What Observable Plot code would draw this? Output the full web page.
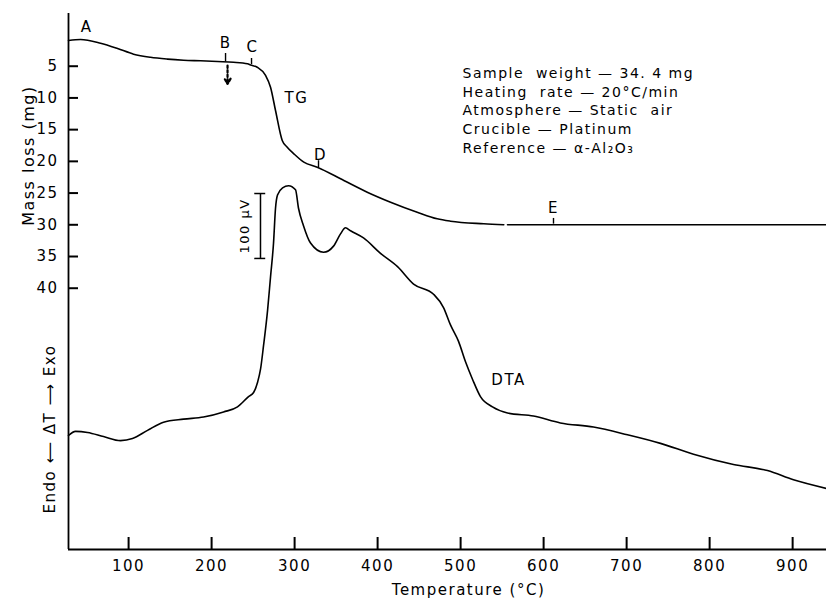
<!DOCTYPE html>
<html><head><meta charset="utf-8">
<script src="https://cdn.jsdelivr.net/npm/d3@7"></script>
<script src="https://cdn.jsdelivr.net/npm/@observablehq/plot@0.6"></script>
<style>
html,body{margin:0;padding:0;background:#fff}
#chart svg text{letter-spacing:1.5px}
#chart g[aria-label="letters"] text{letter-spacing:4px}
#chart g[aria-label^="title"] text{letter-spacing:0}
#chart g[aria-label="x-axis tick label"] text,#chart g[aria-label="y-axis tick label"] text{letter-spacing:1.5px}
</style>
</head><body><div id="chart"></div>
<script>
// TG curve: temperature (°C) and mass loss (mg); null = break in the trace
const tgTemp = [27.6, 42.1, 66.2, 86.7, 106, 126.4, 146.9, 166.2, 186.7, 207.1, 226.4, 243.3, 246.9, 255, 265, 271, 277, 285.1, 291.1, 299.1, 311.1, 327.3, 359.3, 387.5, 415.6, 447.7, 471.8, 487.8, 527.9, 552, 554, 556.5, 940.8];
const tgMass = [0.95, 0.79, 1.37, 2.2, 3.1, 3.6, 3.88, 4.05, 4.15, 4.26, 4.37, 4.62, 4.81, 5.16, 6.46, 8.31, 11.98, 16.71, 17.77, 18.81, 20.13, 20.92, 23.02, 24.86, 26.44, 28.02, 29.06, 29.43, 29.84, 30.0, null, 30.0, 30.0];

// DTA curve: temperature (°C) and ΔT signal (µV, relative to the starting baseline)
const dtaTemp = [27.6, 36.1, 50.5, 69.8, 90.3, 104.7, 122.8, 142.1, 166.2, 190.3, 214.4, 231.2, 244.5, 250.6, 255.4, 259, 262.6, 267.4, 271, 274.6, 277, 279.4, 285.5, 292.7, 301.1, 304.7, 310.7, 319.2, 334.8, 346.9, 355.3, 361.3, 367.4, 383, 403.5, 424, 443.3, 467.4, 479.4, 487.8, 497.5, 505.9, 514.3, 523.9, 538.4, 556.5, 587.8, 620.1, 660.1, 701.1, 740.8, 780.6, 828.7, 869.7, 901.0, 940.8];
const dtaMicroV = [0, 6.3, 4.7, -1.6, -7.9, -4.7, 7.9, 20.5, 25.2, 28.4, 36.3, 44.1, 59.9, 66.2, 82.0, 102.5, 138.7, 192.3, 244.4, 296.4, 350, 370.5, 381.5, 384.7, 378.4, 350, 323.2, 296.4, 282.2, 291.7, 310.6, 320, 315.3, 304.3, 280.6, 260.1, 233.3, 217.6, 197.1, 170.3, 145, 113.5, 86.7, 59.9, 44.1, 34.7, 30, 19.4, 13.1, 1.1, -12.1, -28.8, -44.6, -54.0, -68.2, -81.5];

const xTicks = [100, 200, 300, 400, 500, 600, 700, 800, 900];
const yTicks = [5, 10, 15, 20, 25, 30, 35, 40];

const infoLines = [
  "Sample  weight — 34. 4 mg",
  "Heating  rate — 20°C/min",
  "Atmosphere — Static  air",
  "Crucible — Platinum",
  "Reference — α-Al₂O₃"
];

// point labels on the TG curve
const pointNames = ["A", "B", "C", "D", "E"];
const pointLabelTemp = [49.3, 216.8, 249.3, 331.2, 611.9];
const pointLabelMass = [-1.1, 1.42, 2.05, 19.08, 27.43];
const pointTickTemp = [null, 216.8, 248.1, 328.8, 611.9];
const pointTickFrom = [null, 3.0, 3.78, 19.9, 29.0];
const pointTickTo = [null, 4.3, 4.75, 21.0, 29.9];

// DTA scale bar: 100 µV
const scaleBarMicroV = 100;

// frame (domain) and DTA placement in the mass-loss frame
const X0 = 27.6, X1 = 940.8;
const Y0 = -3.31, Y1 = 81.19;
const dtaBase = 63.22;      // where the DTA baseline starts, in mass-loss units
const microVPerUnit = 9.77; // µV per mass-loss unit

const W = 826, H = 604, ML = 68, MR = 0, MT = 13, MB = 55;
const XTICK = 12, YTICK = 10; // inward tick lengths, px
const yTickLenUnits = XTICK * (Y1 - Y0) / (H - MT - MB);
const xTickLenUnits = YTICK * (X1 - X0) / (W - ML - MR);

const tg = tgTemp.map((t, i) => ({t, m: tgMass[i]}));
const dta = dtaTemp.map((t, i) => ({t, y: dtaBase - dtaMicroV[i] / microVPerUnit}));
const pts = pointNames.map((n, i) => ({n, t: pointLabelTemp[i], m: pointLabelMass[i], tt: pointTickTemp[i], m1: pointTickFrom[i], m2: pointTickTo[i]}));
const ptTicks = pts.filter(d => d.tt != null);
const xTickRows = xTicks.map(v => ({tt: v, m1: Y1, m2: Y1 - yTickLenUnits}));
const yTickRows = yTicks.map(v => ({m: v, t1: X0, t2: X0 + xTickLenUnits}));
const barTemp = 258.9, barTop = 25.07;
const barBottom = barTop + scaleBarMicroV / microVPerUnit;

const plot = Plot.plot({
  width: W, height: H,
  marginLeft: ML, marginRight: MR, marginTop: MT, marginBottom: MB,
  style: {fontFamily: "'DejaVu Sans', sans-serif", fontSize: "15px", color: "#000", background: "#fff", overflow: "visible"},
  x: {domain: [X0, X1]},
  y: {domain: [Y0, Y1], reverse: true},
  marks: [
    Plot.axisX({ticks: xTicks, tickSize: 0, tickPadding: 11, label: null}),
    Plot.axisY({ticks: yTicks, tickSize: 0, tickPadding: 10, label: null}),
    Plot.line(tg, {x: "t", y: "m", curve: "monotone-x", strokeWidth: 1.6}),
    Plot.line(dta, {x: "t", y: "y", curve: "monotone-x", strokeWidth: 1.6}),
    Plot.ruleX(ptTicks, {x: "tt", y1: "m1", y2: "m2", strokeWidth: 1.4}),
    Plot.text(pts, {x: "t", y: "m", text: "n", fontSize: 15}),
    Plot.arrow([{x: 219.2, y1: 4.9, y2: 7.8}], {x1: "x", x2: "x", y1: "y1", y2: "y2", strokeWidth: 2.2, strokeDasharray: "2.5,2", headLength: 5}),
    Plot.ruleX([barTemp], {y1: barTop, y2: barBottom, strokeWidth: 1.5}),
    Plot.ruleY([barTop, barBottom], {x1: 252, x2: 265.2, strokeWidth: 1.5}),
    Plot.text(["100 µV"], {x: 239.7, y: (barTop + barBottom) / 2, rotate: -90, fontSize: 13}),
    Plot.text(["TG"], {x: 302.3, y: 10.09, fontSize: 15, ariaLabel: "letters"}),
    Plot.text(["DTA"], {x: 557.7, y: 54.55, fontSize: 15, ariaLabel: "letters"}),
    Plot.text([infoLines.join("\n")], {x: 502.3, y: 4.73, textAnchor: "start", lineAnchor: "top", lineHeight: 1.34, fontSize: 14}),
    Plot.text(["Mass loss (mg)"], {frameAnchor: "left", y: 19.08, dx: -40, rotate: -90, textAnchor: "middle", fontSize: 16, ariaLabel: "title-mass"}),
    Plot.text(["Endo ⟵ ΔT ⟶ Exo"], {frameAnchor: "left", y: 62.2, dx: -18, rotate: -90, textAnchor: "middle", fontSize: 15, ariaLabel: "title-dta"}),
    Plot.text(["Temperature (°C)"], {x: 509.5, frameAnchor: "bottom", dy: 45, textAnchor: "middle", fontSize: 15, ariaLabel: "title-temp"}),
    // axis lines and inward tick marks, painted last so nothing covers them
    Plot.ruleX([X0], {strokeWidth: 1.8}),
    Plot.ruleY([Y1], {strokeWidth: 1.8}),
    Plot.ruleX(xTickRows, {x: "tt", y1: "m1", y2: "m2", stroke: "#000", strokeWidth: 2}),
    Plot.ruleY(yTickRows, {y: "m", x1: "t1", x2: "t2", stroke: "#000", strokeWidth: 2})
  ]
});
document.getElementById("chart").appendChild(plot);
// stretch the axis titles to the lengths they occupy in the original figure
const titleLengths = {"title-mass": 156, "title-dta": 183, "title-temp": 117};
for (const [k, len] of Object.entries(titleLengths)) {
  d3.select(plot).selectAll(`g[aria-label="${k}"] text`).attr("textLength", len).attr("lengthAdjust", "spacingAndGlyphs");
}
</script>
</body></html>
